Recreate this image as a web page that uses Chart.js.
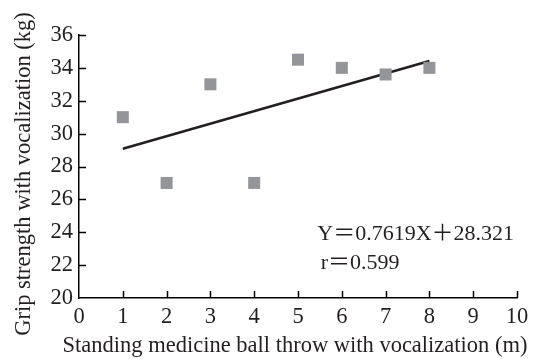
<!DOCTYPE html>
<html>
<head>
<meta charset="utf-8">
<script src="https://cdn.jsdelivr.net/npm/chart.js@4.4.1/dist/chart.umd.min.js"></script>
<style>
  html, body { margin: 0; padding: 0; background: #fff; }
  #wrap { width: 537px; height: 359px; position: relative; }
</style>
</head>
<body>
<div id="wrap"><canvas id="gripChart"></canvas></div>
<script>
// values
const throwDist = [1, 2, 3, 4, 5, 6, 7, 8];
const gripStrength = [31, 27, 33, 27, 34.5, 34, 33.6, 34];
const fitX = [1, 8];
const fitY = [29.08, 34.42];
const xTickValues = [0, 1, 2, 3, 4, 5, 6, 7, 8, 9, 10];
const yTickValues = [20, 22, 24, 26, 28, 30, 32, 34, 36];
const equationText = 'Y＝0.7619X＋28.321';
const rText = 'r＝0.599';

const serif = '"Liberation Serif", "Times New Roman", "Noto Sans CJK SC", serif';

// inward ticks, axis titles and the regression text
const extras = {
  id: 'extras',
  afterDraw(chart) {
    const ctx = chart.ctx;
    const x = chart.scales.x, y = chart.scales.y;
    const area = chart.chartArea;
    ctx.save();
    ctx.strokeStyle = '#000';
    ctx.lineWidth = 1.5;
    ctx.beginPath();
    x.ticks.forEach(t => {
      if (t.value === 0) return;
      const px = Math.round(x.getPixelForValue(t.value)) + 0.5;
      ctx.moveTo(px, area.bottom);
      ctx.lineTo(px, area.bottom - 7);
    });
    y.ticks.forEach(t => {
      if (t.value === 20) return;
      const py = Math.round(y.getPixelForValue(t.value)) + 0.5;
      ctx.moveTo(area.left, py);
      ctx.lineTo(area.left + 7, py);
    });
    ctx.stroke();

    ctx.fillStyle = '#231f20';
    ctx.font = '22.5px ' + serif;
    ctx.textBaseline = 'middle';
    ctx.textAlign = 'center';
    ctx.fillText('Standing medicine ball throw with vocalization (m)', 295, 346);
    ctx.save();
    ctx.translate(24, 174);
    ctx.rotate(-Math.PI / 2);
    ctx.fillText('Grip strength with vocalization (kg)', 0, 0);
    ctx.restore();

    ctx.font = '22px ' + serif;
    ctx.textAlign = 'left';
    ctx.textBaseline = 'alphabetic';
    ctx.fillText(equationText, x.getPixelForValue(5.44), y.getPixelForValue(23.5));
    ctx.fillText(rText, x.getPixelForValue(5.52), y.getPixelForValue(21.75));
    ctx.restore();
  }
};

new Chart(document.getElementById('gripChart').getContext('2d'), {
  type: 'scatter',
  data: {
    datasets: [
      {
        label: 'Measured',
        data: throwDist.map((v, i) => ({ x: v, y: gripStrength[i] })),
        pointStyle: 'rect',
        pointRadius: 8.5,
        pointHoverRadius: 8.5,
        backgroundColor: '#939598',
        borderWidth: 0
      },
      {
        label: 'Fit',
        type: 'line',
        data: fitX.map((v, i) => ({ x: v, y: fitY[i] })),
        borderColor: '#231f20',
        borderWidth: 2.5,
        pointRadius: 0,
        fill: false
      }
    ]
  },
  options: {
    responsive: true,
    maintainAspectRatio: false,
    animation: false,
    layout: { padding: { top: 35, right: 20, left: 0, bottom: 0 } },
    plugins: { legend: { display: false }, tooltip: { enabled: false } },
    scales: {
      x: {
        type: 'linear',
        min: 0,
        max: 10,
        afterBuildTicks: s => { s.ticks = xTickValues.map(v => ({ value: v })); },
        afterFit: s => { s.height = 61; },
        grid: { display: false, drawTicks: false },
        border: { display: true, color: '#000', width: 1.5 },
        ticks: { padding: 6, color: '#231f20', font: { family: serif, size: 22.5 } }
      },
      y: {
        type: 'linear',
        min: 20,
        max: 36,
        afterBuildTicks: s => { s.ticks = yTickValues.map(v => ({ value: v })); },
        afterFit: s => { s.width = 79; },
        grid: { display: false, drawTicks: false },
        border: { display: true, color: '#000', width: 1.5 },
        ticks: { padding: 6, color: '#231f20', font: { family: serif, size: 22.5 } }
      }
    }
  },
  plugins: [extras]
});
</script>
</body>
</html>
